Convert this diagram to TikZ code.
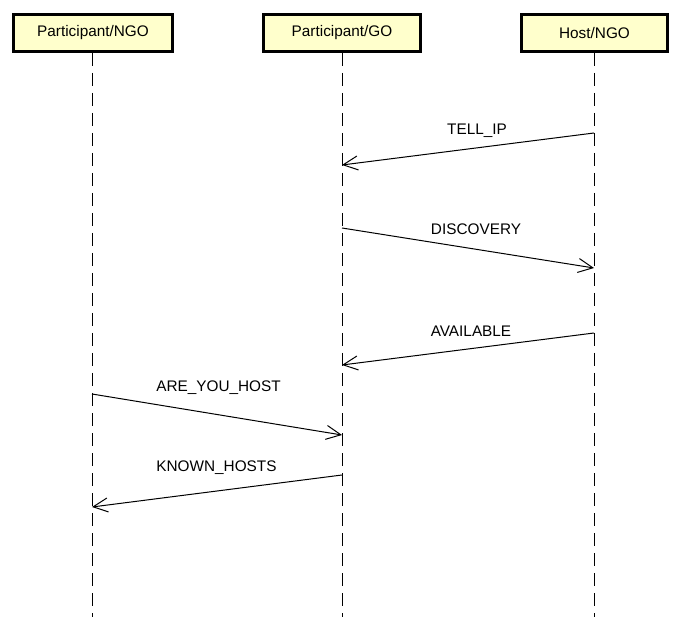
\documentclass[tikz,border=0pt]{standalone}
\usepackage{fontspec}
\setmainfont{Liberation Sans}
\usetikzlibrary{arrows.meta}
\definecolor{boxyellow}{RGB}{255,255,204}
\begin{document}
\begin{tikzpicture}[x=0.75pt,y=-0.75pt]

    \tikzset{
      actor/.style={
        draw,
        fill=boxyellow,
        line width=2.25pt,
        inner sep=0pt,
        minimum height=27.75pt,
        font=\fontsize{11.5}{13}\selectfont,
      },
      lifeline/.style={
        line width=0.75pt,
        dash pattern=on 9.5pt off 5.5pt,
      },
      msg/.style={
        line width=0.75pt,
        -{Straight Barb[length=11pt,width=10.5pt]},
      },
      msglabel/.style={
        inner sep=0pt,
        font=\fontsize{11.5}{13}\selectfont,
      },
    }
    \useasboundingbox (0,0) rectangle (681,630);
	% actors
	\node[actor, minimum width=119pt] (pngo) at (93,33) {Participant/NGO};
	\node[actor, minimum width=118pt] (pgo) at (342,33) {Participant/GO};
	\node[actor, minimum width=109.5pt] (hngo) at (594.5,33) {Host/NGO};
	% lifelines
	\coordinate (pngo end) at (92,617);
	\coordinate (pgo end) at (342,617);
	\coordinate (hngo end) at (594,617);
	\draw[lifeline] (pngo.south -| pngo end) -- (pngo end);
	\draw[lifeline] (pgo.south -| pgo end) -- (pgo end);
	\draw[lifeline] (hngo.south -| hngo end) -- (hngo end);
	% messages
	\coordinate (tell from) at (594,133);
	\coordinate (tell to) at (342,165);
	\draw[msg] (tell from) -- (tell to);
	\node[msglabel] (tell) at (477,131) {TELL\_IP};
	\coordinate (disc from) at (342,228);
	\coordinate (disc to) at (594,268);
	\draw[msg] (disc from) -- (disc to);
	\node[msglabel] (disc) at (476,229) {DISCOVERY};
	\coordinate (avail from) at (594,333);
	\coordinate (avail to) at (342,365);
	\draw[msg] (avail from) -- (avail to);
	\node[msglabel] (avail) at (471,331) {AVAILABLE};
	\coordinate (ask from) at (92,394);
	\coordinate (ask to) at (342,435);
	\draw[msg] (ask from) -- (ask to);
	\node[msglabel] (ask) at (218.5,388) {ARE\_YOU\_HOST};
	\coordinate (known from) at (342,475);
	\coordinate (known to) at (92,507);
	\draw[msg] (known from) -- (known to);
	\node[msglabel] (known) at (216.5,468) {KNOWN\_HOSTS};

\end{tikzpicture}
\end{document}
